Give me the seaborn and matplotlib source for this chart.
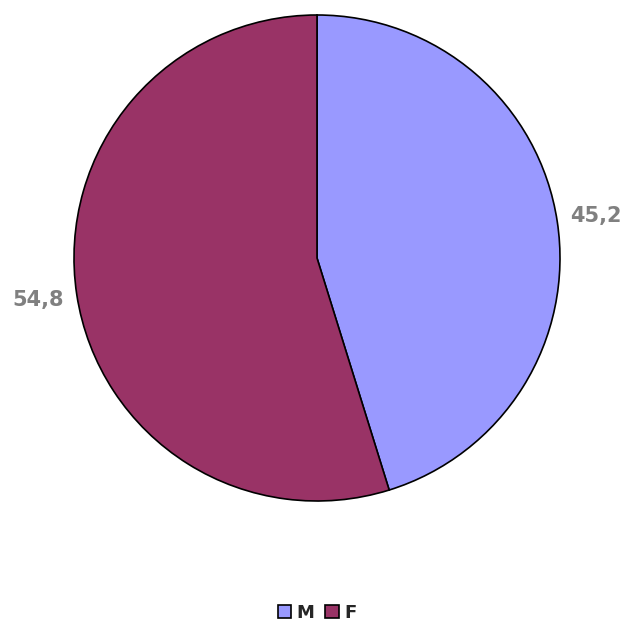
import matplotlib
matplotlib.use("Agg")
import matplotlib.pyplot as plt
import seaborn as sns

categories = ["M", "F"]
values = [45.2, 54.8]
value_labels = ["45,2", "54,8"]
colors = ["#9999FF", "#993366"]

sns.set_theme(style="white")
plt.rcParams['font.family'] = ['DejaVu Sans']

fig = plt.figure(figsize=(6.28, 6.24), dpi=100)
ax = fig.add_axes([74 / 628, 123 / 624, 486 / 628, 486 / 624])

wedges, texts = ax.pie(
    values, labels=value_labels, colors=colors, startangle=90, counterclock=False,
    labeldistance=1.16, radius=1.0,
    wedgeprops=dict(edgecolor="black", linewidth=1.2),
    textprops=dict(color="#808080", fontsize=15, fontweight="bold"),
)
for t in texts:
    t.set_ha("center")
    t.set_va("center")

ax.set_xlim(-1, 1)
ax.set_ylim(-1, 1)
ax.set_aspect("equal")
ax.axis("off")

fig.legend(wedges, categories, loc="center", bbox_to_anchor=(317 / 628, 1 - 613 / 624),
           ncol=2, frameon=False, handlelength=0.75, handleheight=0.75,
           handletextpad=0.3, columnspacing=0.6,
           prop=dict(size=13, weight="bold"))

fig.savefig("out.png", dpi=100)
